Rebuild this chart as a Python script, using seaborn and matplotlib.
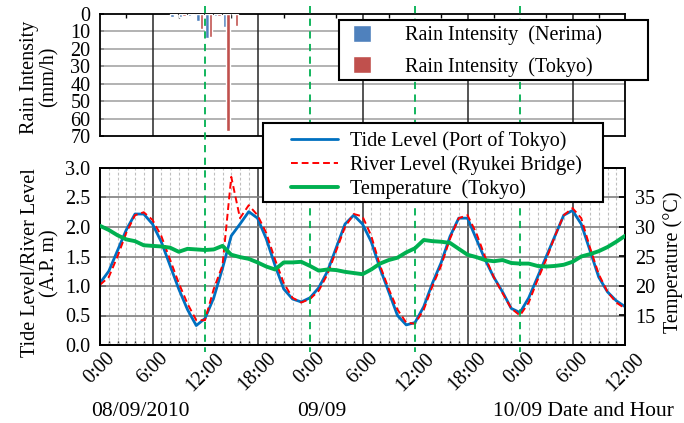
import numpy as np
import pandas as pd
import matplotlib
matplotlib.use("Agg")
import matplotlib.pyplot as plt
import matplotlib.transforms as mtransforms
from matplotlib.lines import Line2D
from matplotlib.patches import Rectangle
import seaborn as sns

# ---------------- data ----------------
hours = list(range(61))  # hours from 08/09/2010 0:00
tide_level = [1.05, 1.25, 1.60, 1.95, 2.22, 2.22, 2.05, 1.75, 1.35, 0.95,
              0.60, 0.33, 0.45, 0.80, 1.30, 1.85, 2.05, 2.26, 2.15, 1.80,
              1.35, 0.95, 0.78, 0.73, 0.80, 0.97, 1.25, 1.65, 2.05, 2.20,
              2.05, 1.75, 1.30, 0.90, 0.50, 0.34, 0.38, 0.65, 1.05, 1.40,
              1.84, 2.15, 2.15, 1.80, 1.45, 1.15, 0.90, 0.62, 0.55, 0.80,
              1.15, 1.50, 1.85, 2.20, 2.28, 2.05, 1.60, 1.15, 0.90, 0.75,
              0.65]
river_level = [1.02, 1.15, 1.50, 1.90, 2.20, 2.25, 2.12, 1.85, 1.45, 1.05,
               0.70, 0.42, 0.42, 0.95, 1.35, 2.85, 2.15, 2.37, 2.20, 1.90,
               1.45, 1.05, 0.80, 0.72, 0.78, 0.92, 1.20, 1.60, 2.00, 2.22,
               2.18, 1.85, 1.35, 0.95, 0.60, 0.38, 0.36, 0.60, 1.00, 1.35,
               1.80, 2.15, 2.20, 1.90, 1.50, 1.15, 0.88, 0.62, 0.50, 0.72,
               1.10, 1.45, 1.85, 2.20, 2.32, 2.15, 1.65, 1.20, 0.90, 0.72,
               0.62]
temperature = [30.2, 29.5, 28.6, 27.9, 27.6, 26.9, 26.8, 26.7, 26.5, 25.8,
               26.3, 26.2, 26.1, 26.2, 26.8, 25.3, 24.9, 24.6, 24.0, 23.3,
               22.8, 24.0, 24.0, 24.1, 23.4, 22.6, 22.8, 22.7, 22.4, 22.2,
               22.0, 22.8, 23.8, 24.4, 24.8, 25.7, 26.4, 27.8, 27.6, 27.5,
               27.3, 26.3, 25.3, 24.9, 24.4, 24.2, 24.4, 23.9, 23.8, 23.8,
               23.4, 23.3, 23.4, 23.6, 24.1, 25.0, 25.4, 25.9, 26.6, 27.5,
               28.5]
rain_hours = [8, 9, 10, 11, 12, 13, 14, 15]
rain_nerima = [1.5, 2.0, 1.2, 3.8, 13.8, 1.2, 7.3, 0.0]
rain_tokyo = [0.5, 1.2, 0.6, 8.6, 13.4, 1.4, 67.0, 6.9]

time_labels = ["0:00", "6:00", "12:00", "18:00", "0:00", "6:00",
               "12:00", "18:00", "0:00", "6:00", "12:00"]
date_labels = ["08/09/2010", "09/09", "10/09 Date and Hour"]
lbl_nerima = "Rain Intensity  (Nerima)"
lbl_tokyo = "Rain Intensity  (Tokyo)"
lbl_tide = "Tide Level (Port of Tokyo)"
lbl_river = "River Level (Ryukei Bridge)"
lbl_temp = "Temperature  (Tokyo)"

# ---------------- style ----------------
sns.set_theme(style="white")
plt.rcParams["font.family"] = ["Liberation Serif", "DejaVu Serif"]
FS = 14.5
plt.rcParams.update({
    "font.size": FS, "axes.edgecolor": "black", "axes.linewidth": 1.3,
    "xtick.color": "black", "ytick.color": "black", "text.color": "black",
    "axes.labelcolor": "black", "xtick.labelsize": FS, "ytick.labelsize": FS,
})

C_NER, C_TOK = "#4F81BD", "#C0504D"
C_TIDE, C_RIVER, C_TEMP = "#0070C0", "#FF0000", "#00B050"

W, H = 684, 423
fig = plt.figure(figsize=(W / 100, H / 100), dpi=100)
fig.patch.set_facecolor("white")


def fx(px):
    return px / W


def fy(py):
    return 1 - py / H


X0, X1 = 100, 625
ax1 = fig.add_axes([fx(X0), fy(136), (X1 - X0) / W, (136 - 14) / H])
ax = fig.add_axes([fx(X0), fy(345), (X1 - X0) / W, (345 - 168) / H])

# ---------------- rain panel ----------------
rain_df = pd.DataFrame({
    "pos": [h + 0.4 for h in rain_hours] * 2,
    "rain": rain_nerima + rain_tokyo,
    "station": [lbl_nerima] * len(rain_hours) + [lbl_tokyo] * len(rain_hours),
})
sns.barplot(data=rain_df, x="pos", y="rain", hue="station", native_scale=True,
            palette=[C_NER, C_TOK], width=0.8, saturation=1, errorbar=None,
            ax=ax1, zorder=3)
h_rain, l_rain = ax1.get_legend_handles_labels()
if ax1.get_legend() is not None:
    ax1.get_legend().remove()
ax1.set_xlim(0, 60)
ax1.set_ylim(70, 0)
ax1.set_yticks(range(0, 71, 10))
ax1.set_xticks(range(3, 60, 6))
ax1.set_xlabel("")
ax1.set_ylabel("")
ax1.tick_params(axis="x", top=True, bottom=False, direction="in", length=3,
                labelbottom=False, labeltop=False, width=1)
ax1.tick_params(axis="y", left=True, direction="in", length=3, pad=7)
for v in range(10, 70, 10):
    ax1.axhline(v, color="#A6A6A6", lw=1.2, zorder=1)
for h in [6, 18, 30, 42, 54]:
    ax1.axvline(h, color="#262626", lw=1.1, zorder=1)

# ---------------- level panel ----------------
for h in range(1, 60):
    if h % 6:
        ax.axvline(h, color="#BFBFBF", lw=0.8, ls=(0, (2.5, 2)), zorder=1)
for h in [6, 18, 30, 42, 54]:
    ax.axvline(h, color="#404040", lw=1.2, zorder=1.5)
for v in [0.5, 1.0, 1.5, 2.0, 2.5]:
    ax.axhline(v, color="#7F7F7F", lw=1.2, zorder=1.5)

sns.lineplot(x=hours, y=tide_level, ax=ax, color=C_TIDE, lw=2.0,
             label=lbl_tide, zorder=4)
sns.lineplot(x=hours, y=river_level, ax=ax, color=C_RIVER, lw=1.4,
             ls=(0, (3.5, 2)), label=lbl_river, zorder=5)
h_lv, l_lv = ax.get_legend_handles_labels()
if ax.get_legend() is not None:
    ax.get_legend().remove()

ax.set_xlim(0, 60)
ax.set_ylim(0, 3.0)
ax.set_yticks(np.arange(0, 3.01, 0.5))
ax.set_yticklabels([f"{v:.1f}" for v in np.arange(0, 3.01, 0.5)])
ax.set_xticks(range(0, 61, 6))
ax.set_xticklabels(time_labels, rotation=45, ha="center")
ax.set_xticks(range(0, 61, 1), minor=True)
ax.tick_params(axis="x", which="major", direction="in", length=4, pad=3)
ax.tick_params(axis="x", which="minor", direction="in", length=3, bottom=True)
ax.tick_params(axis="y", left=True, direction="in", length=4, pad=7)

ax2 = ax.twinx()
sns.lineplot(x=hours, y=temperature, ax=ax2, color=C_TEMP, lw=2.8,
             label=lbl_temp, zorder=3)
h_tp, l_tp = ax2.get_legend_handles_labels()
if ax2.get_legend() is not None:
    ax2.get_legend().remove()
ax2.set_ylim(10, 40)
ax2.set_yticks([15, 20, 25, 30, 35])
ax2.set_ylabel("")
ax2.tick_params(axis="y", right=True, direction="in", length=4, pad=7)
for a in (ax, ax1, ax2):
    for s in a.spines.values():
        s.set_color("black")
        s.set_linewidth(1.3)

# ---------------- green date separators ----------------
trans = mtransforms.blended_transform_factory(ax.transData, fig.transFigure)
for h in [12, 24, 36, 48]:
    fig.add_artist(Line2D([h, h], [fy(6), fy(352)], transform=trans,
                          color=C_TEMP, lw=1.3, ls=(0, (4, 3)), zorder=3))

# ---------------- legends ----------------
fig.add_artist(Rectangle((fx(339), fy(80)), 309 / W, 60 / H,
                         transform=fig.transFigure, facecolor="white",
                         edgecolor="black", lw=1.5, zorder=4))
fig.legend(h_rain, l_rain, loc="upper left",
           bbox_to_anchor=(fx(353), fy(25)), bbox_transform=fig.transFigure,
           frameon=False, borderpad=0, borderaxespad=0, handlelength=0.9,
           handleheight=0.9, handletextpad=1.7, labelspacing=0.55,
           fontsize=FS).set_zorder(5)

fig.add_artist(Rectangle((fx(263), fy(202)), 340 / W, 79 / H,
                         transform=fig.transFigure, facecolor="white",
                         edgecolor="black", lw=1.5, zorder=4))
fig.legend(h_lv + h_tp, l_lv + l_tp, loc="upper left",
           bbox_to_anchor=(fx(291), fy(131)), bbox_transform=fig.transFigure,
           frameon=False, borderpad=0, borderaxespad=0, handlelength=2.35,
           handletextpad=0.6, labelspacing=0.22, fontsize=FS).set_zorder(5)

# ---------------- axis titles & dates ----------------
fig.text(fx(39), fy(77), "Rain Intensity\n(mm/h)", rotation=90,
         ha="center", va="center", multialignment="center",
         linespacing=1.0, fontsize=FS)
fig.text(fx(40), fy(263), "Tide Level/River Level\n(A.P. m)", rotation=90,
         ha="center", va="center", multialignment="center",
         linespacing=1.0, fontsize=FS)
fig.text(fx(673), fy(262), "Temperature (°C)", rotation=90,
         ha="center", va="center", fontsize=FS)
fig.text(fx(140), fy(411), date_labels[0], ha="center", va="center", fontsize=FS + 1)
fig.text(fx(322), fy(411), date_labels[1], ha="center", va="center", fontsize=FS + 1)
fig.text(fx(493), fy(411), date_labels[2], ha="left", va="center", fontsize=FS + 1)

fig.savefig("out.png", dpi=100, facecolor="white")
